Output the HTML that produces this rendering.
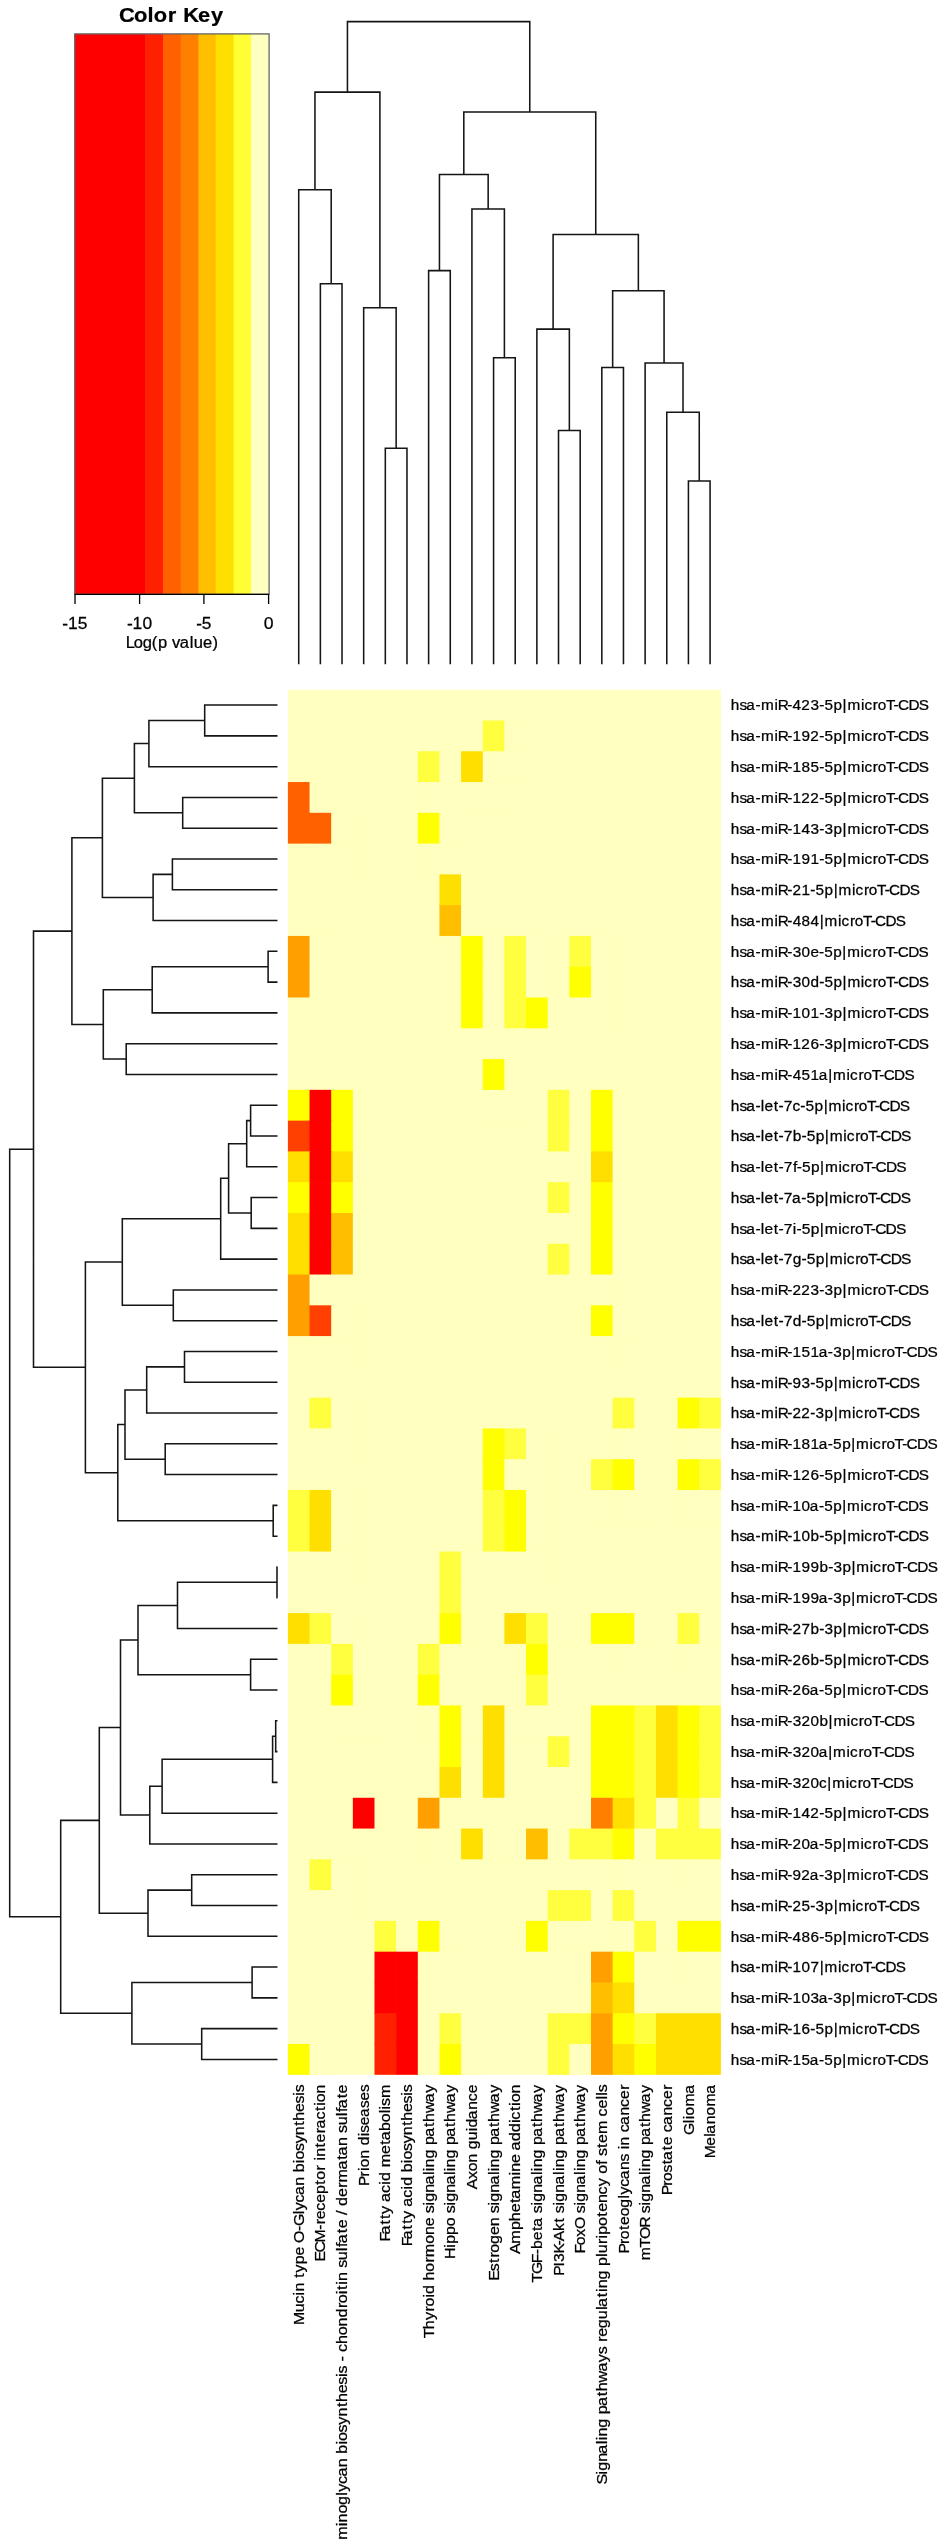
<!DOCTYPE html><html><head><meta charset="utf-8"><style>html,body{margin:0;padding:0;background:#fff;}svg{display:block;will-change:transform;}text{font-family:"Liberation Sans",sans-serif;stroke:#000;stroke-width:0.25px;}</style></head><body>
<svg width="944" height="2548" viewBox="0 0 944 2548">
<rect width="944" height="2548" fill="#fff"/>
<rect x="287.9" y="689.7" width="433.00" height="1385.10" fill="#FFFFBF"/>
<rect x="482.75" y="720.48" width="22.35" height="31.48" fill="#FFFF40"/>
<rect x="504.40" y="720.48" width="22.35" height="31.48" fill="#FFFFBF"/>
<rect x="417.80" y="751.26" width="22.35" height="31.48" fill="#FFFF40"/>
<rect x="439.45" y="751.26" width="22.35" height="31.48" fill="#FFFFBF"/>
<rect x="461.10" y="751.26" width="22.35" height="31.48" fill="#FFDF00"/>
<rect x="482.75" y="751.26" width="22.35" height="31.48" fill="#FFFFBF"/>
<rect x="504.40" y="751.26" width="22.35" height="31.48" fill="#FFFFBF"/>
<rect x="287.90" y="782.04" width="22.35" height="31.48" fill="#FF6000"/>
<rect x="309.55" y="782.04" width="22.35" height="31.48" fill="#FFFFBF"/>
<rect x="417.80" y="782.04" width="22.35" height="31.48" fill="#FFFFBF"/>
<rect x="439.45" y="782.04" width="22.35" height="31.48" fill="#FFFFBF"/>
<rect x="461.10" y="782.04" width="22.35" height="31.48" fill="#FFFFBF"/>
<rect x="482.75" y="782.04" width="22.35" height="31.48" fill="#FFFFBF"/>
<rect x="287.90" y="812.82" width="22.35" height="31.48" fill="#FF6000"/>
<rect x="309.55" y="812.82" width="22.35" height="31.48" fill="#FF6000"/>
<rect x="331.20" y="812.82" width="22.35" height="31.48" fill="#FFFFBF"/>
<rect x="417.80" y="812.82" width="22.35" height="31.48" fill="#FFFF00"/>
<rect x="439.45" y="812.82" width="22.35" height="31.48" fill="#FFFFBF"/>
<rect x="287.90" y="843.60" width="22.35" height="31.48" fill="#FFFFBF"/>
<rect x="309.55" y="843.60" width="22.35" height="31.48" fill="#FFFFBF"/>
<rect x="331.20" y="843.60" width="22.35" height="31.48" fill="#FFFFBF"/>
<rect x="417.80" y="843.60" width="22.35" height="31.48" fill="#FFFFBF"/>
<rect x="439.45" y="843.60" width="22.35" height="31.48" fill="#FFFFBF"/>
<rect x="439.45" y="874.38" width="22.35" height="31.48" fill="#FFDF00"/>
<rect x="461.10" y="874.38" width="22.35" height="31.48" fill="#FFFFBF"/>
<rect x="439.45" y="905.16" width="22.35" height="31.48" fill="#FFBF00"/>
<rect x="461.10" y="905.16" width="22.35" height="31.48" fill="#FFFFBF"/>
<rect x="287.90" y="935.94" width="22.35" height="31.48" fill="#FFA000"/>
<rect x="309.55" y="935.94" width="22.35" height="31.48" fill="#FFFFBF"/>
<rect x="439.45" y="935.94" width="22.35" height="31.48" fill="#FFFFBF"/>
<rect x="461.10" y="935.94" width="22.35" height="31.48" fill="#FFFF00"/>
<rect x="482.75" y="935.94" width="22.35" height="31.48" fill="#FFFFBF"/>
<rect x="504.40" y="935.94" width="22.35" height="31.48" fill="#FFFF40"/>
<rect x="526.05" y="935.94" width="22.35" height="31.48" fill="#FFFFBF"/>
<rect x="569.35" y="935.94" width="22.35" height="31.48" fill="#FFFF40"/>
<rect x="591.00" y="935.94" width="22.35" height="31.48" fill="#FFFFBF"/>
<rect x="287.90" y="966.72" width="22.35" height="31.48" fill="#FFA000"/>
<rect x="309.55" y="966.72" width="22.35" height="31.48" fill="#FFFFBF"/>
<rect x="461.10" y="966.72" width="22.35" height="31.48" fill="#FFFF00"/>
<rect x="482.75" y="966.72" width="22.35" height="31.48" fill="#FFFFBF"/>
<rect x="504.40" y="966.72" width="22.35" height="31.48" fill="#FFFF40"/>
<rect x="526.05" y="966.72" width="22.35" height="31.48" fill="#FFFFBF"/>
<rect x="569.35" y="966.72" width="22.35" height="31.48" fill="#FFFF00"/>
<rect x="591.00" y="966.72" width="22.35" height="31.48" fill="#FFFFBF"/>
<rect x="287.90" y="997.50" width="22.35" height="31.48" fill="#FFFFBF"/>
<rect x="309.55" y="997.50" width="22.35" height="31.48" fill="#FFFFBF"/>
<rect x="461.10" y="997.50" width="22.35" height="31.48" fill="#FFFF00"/>
<rect x="482.75" y="997.50" width="22.35" height="31.48" fill="#FFFFBF"/>
<rect x="504.40" y="997.50" width="22.35" height="31.48" fill="#FFFF40"/>
<rect x="526.05" y="997.50" width="22.35" height="31.48" fill="#FFFF00"/>
<rect x="547.70" y="997.50" width="22.35" height="31.48" fill="#FFFFBF"/>
<rect x="569.35" y="997.50" width="22.35" height="31.48" fill="#FFFFBF"/>
<rect x="591.00" y="997.50" width="22.35" height="31.48" fill="#FFFFBF"/>
<rect x="461.10" y="1028.28" width="22.35" height="31.48" fill="#FFFFBF"/>
<rect x="482.75" y="1028.28" width="22.35" height="31.48" fill="#FFFFBF"/>
<rect x="504.40" y="1028.28" width="22.35" height="31.48" fill="#FFFFBF"/>
<rect x="526.05" y="1028.28" width="22.35" height="31.48" fill="#FFFFBF"/>
<rect x="547.70" y="1028.28" width="22.35" height="31.48" fill="#FFFFBF"/>
<rect x="482.75" y="1059.06" width="22.35" height="31.48" fill="#FFFF00"/>
<rect x="504.40" y="1059.06" width="22.35" height="31.48" fill="#FFFFBF"/>
<rect x="287.90" y="1089.84" width="22.35" height="31.48" fill="#FFFF00"/>
<rect x="309.55" y="1089.84" width="22.35" height="31.48" fill="#FF0000"/>
<rect x="331.20" y="1089.84" width="22.35" height="31.48" fill="#FFFF00"/>
<rect x="352.85" y="1089.84" width="22.35" height="31.48" fill="#FFFFBF"/>
<rect x="482.75" y="1089.84" width="22.35" height="31.48" fill="#FFFFBF"/>
<rect x="504.40" y="1089.84" width="22.35" height="31.48" fill="#FFFFBF"/>
<rect x="547.70" y="1089.84" width="22.35" height="31.48" fill="#FFFF40"/>
<rect x="569.35" y="1089.84" width="22.35" height="31.48" fill="#FFFFBF"/>
<rect x="591.00" y="1089.84" width="22.35" height="31.48" fill="#FFFF00"/>
<rect x="612.65" y="1089.84" width="22.35" height="31.48" fill="#FFFFBF"/>
<rect x="287.90" y="1120.62" width="22.35" height="31.48" fill="#FF4000"/>
<rect x="309.55" y="1120.62" width="22.35" height="31.48" fill="#FF0000"/>
<rect x="331.20" y="1120.62" width="22.35" height="31.48" fill="#FFFF00"/>
<rect x="352.85" y="1120.62" width="22.35" height="31.48" fill="#FFFFBF"/>
<rect x="547.70" y="1120.62" width="22.35" height="31.48" fill="#FFFF40"/>
<rect x="569.35" y="1120.62" width="22.35" height="31.48" fill="#FFFFBF"/>
<rect x="591.00" y="1120.62" width="22.35" height="31.48" fill="#FFFF00"/>
<rect x="612.65" y="1120.62" width="22.35" height="31.48" fill="#FFFFBF"/>
<rect x="287.90" y="1151.40" width="22.35" height="31.48" fill="#FFDF00"/>
<rect x="309.55" y="1151.40" width="22.35" height="31.48" fill="#FF0000"/>
<rect x="331.20" y="1151.40" width="22.35" height="31.48" fill="#FFDF00"/>
<rect x="352.85" y="1151.40" width="22.35" height="31.48" fill="#FFFFBF"/>
<rect x="547.70" y="1151.40" width="22.35" height="31.48" fill="#FFFFBF"/>
<rect x="569.35" y="1151.40" width="22.35" height="31.48" fill="#FFFFBF"/>
<rect x="591.00" y="1151.40" width="22.35" height="31.48" fill="#FFDF00"/>
<rect x="612.65" y="1151.40" width="22.35" height="31.48" fill="#FFFFBF"/>
<rect x="287.90" y="1182.18" width="22.35" height="31.48" fill="#FFFF00"/>
<rect x="309.55" y="1182.18" width="22.35" height="31.48" fill="#FF0000"/>
<rect x="331.20" y="1182.18" width="22.35" height="31.48" fill="#FFFF00"/>
<rect x="352.85" y="1182.18" width="22.35" height="31.48" fill="#FFFFBF"/>
<rect x="547.70" y="1182.18" width="22.35" height="31.48" fill="#FFFF40"/>
<rect x="569.35" y="1182.18" width="22.35" height="31.48" fill="#FFFFBF"/>
<rect x="591.00" y="1182.18" width="22.35" height="31.48" fill="#FFFF00"/>
<rect x="612.65" y="1182.18" width="22.35" height="31.48" fill="#FFFFBF"/>
<rect x="287.90" y="1212.96" width="22.35" height="31.48" fill="#FFDF00"/>
<rect x="309.55" y="1212.96" width="22.35" height="31.48" fill="#FF0000"/>
<rect x="331.20" y="1212.96" width="22.35" height="31.48" fill="#FFBF00"/>
<rect x="352.85" y="1212.96" width="22.35" height="31.48" fill="#FFFFBF"/>
<rect x="547.70" y="1212.96" width="22.35" height="31.48" fill="#FFFFBF"/>
<rect x="569.35" y="1212.96" width="22.35" height="31.48" fill="#FFFFBF"/>
<rect x="591.00" y="1212.96" width="22.35" height="31.48" fill="#FFFF00"/>
<rect x="612.65" y="1212.96" width="22.35" height="31.48" fill="#FFFFBF"/>
<rect x="287.90" y="1243.74" width="22.35" height="31.48" fill="#FFDF00"/>
<rect x="309.55" y="1243.74" width="22.35" height="31.48" fill="#FF0000"/>
<rect x="331.20" y="1243.74" width="22.35" height="31.48" fill="#FFBF00"/>
<rect x="352.85" y="1243.74" width="22.35" height="31.48" fill="#FFFFBF"/>
<rect x="547.70" y="1243.74" width="22.35" height="31.48" fill="#FFFF40"/>
<rect x="569.35" y="1243.74" width="22.35" height="31.48" fill="#FFFFBF"/>
<rect x="591.00" y="1243.74" width="22.35" height="31.48" fill="#FFFF00"/>
<rect x="612.65" y="1243.74" width="22.35" height="31.48" fill="#FFFFBF"/>
<rect x="287.90" y="1274.52" width="22.35" height="31.48" fill="#FFA000"/>
<rect x="309.55" y="1274.52" width="22.35" height="31.48" fill="#FFFFBF"/>
<rect x="331.20" y="1274.52" width="22.35" height="31.48" fill="#FFFFBF"/>
<rect x="352.85" y="1274.52" width="22.35" height="31.48" fill="#FFFFBF"/>
<rect x="547.70" y="1274.52" width="22.35" height="31.48" fill="#FFFFBF"/>
<rect x="569.35" y="1274.52" width="22.35" height="31.48" fill="#FFFFBF"/>
<rect x="591.00" y="1274.52" width="22.35" height="31.48" fill="#FFFFBF"/>
<rect x="612.65" y="1274.52" width="22.35" height="31.48" fill="#FFFFBF"/>
<rect x="287.90" y="1305.30" width="22.35" height="31.48" fill="#FFA000"/>
<rect x="309.55" y="1305.30" width="22.35" height="31.48" fill="#FF4000"/>
<rect x="331.20" y="1305.30" width="22.35" height="31.48" fill="#FFFFBF"/>
<rect x="591.00" y="1305.30" width="22.35" height="31.48" fill="#FFFF00"/>
<rect x="612.65" y="1305.30" width="22.35" height="31.48" fill="#FFFFBF"/>
<rect x="287.90" y="1336.08" width="22.35" height="31.48" fill="#FFFFBF"/>
<rect x="309.55" y="1336.08" width="22.35" height="31.48" fill="#FFFFBF"/>
<rect x="331.20" y="1336.08" width="22.35" height="31.48" fill="#FFFFBF"/>
<rect x="591.00" y="1336.08" width="22.35" height="31.48" fill="#FFFFBF"/>
<rect x="612.65" y="1336.08" width="22.35" height="31.48" fill="#FFFFBF"/>
<rect x="309.55" y="1397.64" width="22.35" height="31.48" fill="#FFFF40"/>
<rect x="331.20" y="1397.64" width="22.35" height="31.48" fill="#FFFFBF"/>
<rect x="612.65" y="1397.64" width="22.35" height="31.48" fill="#FFFF40"/>
<rect x="634.30" y="1397.64" width="22.35" height="31.48" fill="#FFFFBF"/>
<rect x="677.60" y="1397.64" width="22.35" height="31.48" fill="#FFFF00"/>
<rect x="699.25" y="1397.64" width="21.65" height="31.48" fill="#FFFF40"/>
<rect x="309.55" y="1428.42" width="22.35" height="31.48" fill="#FFFFBF"/>
<rect x="331.20" y="1428.42" width="22.35" height="31.48" fill="#FFFFBF"/>
<rect x="482.75" y="1428.42" width="22.35" height="31.48" fill="#FFFF00"/>
<rect x="504.40" y="1428.42" width="22.35" height="31.48" fill="#FFFF40"/>
<rect x="526.05" y="1428.42" width="22.35" height="31.48" fill="#FFFFBF"/>
<rect x="612.65" y="1428.42" width="22.35" height="31.48" fill="#FFFFBF"/>
<rect x="634.30" y="1428.42" width="22.35" height="31.48" fill="#FFFFBF"/>
<rect x="677.60" y="1428.42" width="22.35" height="31.48" fill="#FFFFBF"/>
<rect x="699.25" y="1428.42" width="21.65" height="31.48" fill="#FFFFBF"/>
<rect x="482.75" y="1459.20" width="22.35" height="31.48" fill="#FFFF00"/>
<rect x="504.40" y="1459.20" width="22.35" height="31.48" fill="#FFFFBF"/>
<rect x="526.05" y="1459.20" width="22.35" height="31.48" fill="#FFFFBF"/>
<rect x="591.00" y="1459.20" width="22.35" height="31.48" fill="#FFFF40"/>
<rect x="612.65" y="1459.20" width="22.35" height="31.48" fill="#FFFF00"/>
<rect x="634.30" y="1459.20" width="22.35" height="31.48" fill="#FFFFBF"/>
<rect x="677.60" y="1459.20" width="22.35" height="31.48" fill="#FFFF00"/>
<rect x="699.25" y="1459.20" width="21.65" height="31.48" fill="#FFFF40"/>
<rect x="287.90" y="1489.98" width="22.35" height="31.48" fill="#FFFF40"/>
<rect x="309.55" y="1489.98" width="22.35" height="31.48" fill="#FFDF00"/>
<rect x="331.20" y="1489.98" width="22.35" height="31.48" fill="#FFFFBF"/>
<rect x="482.75" y="1489.98" width="22.35" height="31.48" fill="#FFFF40"/>
<rect x="504.40" y="1489.98" width="22.35" height="31.48" fill="#FFFF00"/>
<rect x="526.05" y="1489.98" width="22.35" height="31.48" fill="#FFFFBF"/>
<rect x="591.00" y="1489.98" width="22.35" height="31.48" fill="#FFFFBF"/>
<rect x="612.65" y="1489.98" width="22.35" height="31.48" fill="#FFFFBF"/>
<rect x="634.30" y="1489.98" width="22.35" height="31.48" fill="#FFFFBF"/>
<rect x="677.60" y="1489.98" width="22.35" height="31.48" fill="#FFFFBF"/>
<rect x="699.25" y="1489.98" width="21.65" height="31.48" fill="#FFFFBF"/>
<rect x="287.90" y="1520.76" width="22.35" height="31.48" fill="#FFFF40"/>
<rect x="309.55" y="1520.76" width="22.35" height="31.48" fill="#FFDF00"/>
<rect x="331.20" y="1520.76" width="22.35" height="31.48" fill="#FFFFBF"/>
<rect x="482.75" y="1520.76" width="22.35" height="31.48" fill="#FFFF40"/>
<rect x="504.40" y="1520.76" width="22.35" height="31.48" fill="#FFFF00"/>
<rect x="526.05" y="1520.76" width="22.35" height="31.48" fill="#FFFFBF"/>
<rect x="287.90" y="1551.54" width="22.35" height="31.48" fill="#FFFFBF"/>
<rect x="309.55" y="1551.54" width="22.35" height="31.48" fill="#FFFFBF"/>
<rect x="331.20" y="1551.54" width="22.35" height="31.48" fill="#FFFFBF"/>
<rect x="439.45" y="1551.54" width="22.35" height="31.48" fill="#FFFF40"/>
<rect x="461.10" y="1551.54" width="22.35" height="31.48" fill="#FFFFBF"/>
<rect x="482.75" y="1551.54" width="22.35" height="31.48" fill="#FFFFBF"/>
<rect x="504.40" y="1551.54" width="22.35" height="31.48" fill="#FFFFBF"/>
<rect x="526.05" y="1551.54" width="22.35" height="31.48" fill="#FFFFBF"/>
<rect x="439.45" y="1582.32" width="22.35" height="31.48" fill="#FFFF40"/>
<rect x="461.10" y="1582.32" width="22.35" height="31.48" fill="#FFFFBF"/>
<rect x="287.90" y="1613.10" width="22.35" height="31.48" fill="#FFDF00"/>
<rect x="309.55" y="1613.10" width="22.35" height="31.48" fill="#FFFF40"/>
<rect x="331.20" y="1613.10" width="22.35" height="31.48" fill="#FFFFBF"/>
<rect x="439.45" y="1613.10" width="22.35" height="31.48" fill="#FFFF00"/>
<rect x="461.10" y="1613.10" width="22.35" height="31.48" fill="#FFFFBF"/>
<rect x="504.40" y="1613.10" width="22.35" height="31.48" fill="#FFDF00"/>
<rect x="526.05" y="1613.10" width="22.35" height="31.48" fill="#FFFF40"/>
<rect x="547.70" y="1613.10" width="22.35" height="31.48" fill="#FFFFBF"/>
<rect x="591.00" y="1613.10" width="22.35" height="31.48" fill="#FFFF00"/>
<rect x="612.65" y="1613.10" width="22.35" height="31.48" fill="#FFFF00"/>
<rect x="634.30" y="1613.10" width="22.35" height="31.48" fill="#FFFFBF"/>
<rect x="677.60" y="1613.10" width="22.35" height="31.48" fill="#FFFF40"/>
<rect x="699.25" y="1613.10" width="21.65" height="31.48" fill="#FFFFBF"/>
<rect x="287.90" y="1643.88" width="22.35" height="31.48" fill="#FFFFBF"/>
<rect x="309.55" y="1643.88" width="22.35" height="31.48" fill="#FFFFBF"/>
<rect x="331.20" y="1643.88" width="22.35" height="31.48" fill="#FFFF40"/>
<rect x="352.85" y="1643.88" width="22.35" height="31.48" fill="#FFFFBF"/>
<rect x="417.80" y="1643.88" width="22.35" height="31.48" fill="#FFFF40"/>
<rect x="439.45" y="1643.88" width="22.35" height="31.48" fill="#FFFFBF"/>
<rect x="461.10" y="1643.88" width="22.35" height="31.48" fill="#FFFFBF"/>
<rect x="504.40" y="1643.88" width="22.35" height="31.48" fill="#FFFFBF"/>
<rect x="526.05" y="1643.88" width="22.35" height="31.48" fill="#FFFF00"/>
<rect x="547.70" y="1643.88" width="22.35" height="31.48" fill="#FFFFBF"/>
<rect x="591.00" y="1643.88" width="22.35" height="31.48" fill="#FFFFBF"/>
<rect x="612.65" y="1643.88" width="22.35" height="31.48" fill="#FFFFBF"/>
<rect x="634.30" y="1643.88" width="22.35" height="31.48" fill="#FFFFBF"/>
<rect x="677.60" y="1643.88" width="22.35" height="31.48" fill="#FFFFBF"/>
<rect x="699.25" y="1643.88" width="21.65" height="31.48" fill="#FFFFBF"/>
<rect x="331.20" y="1674.66" width="22.35" height="31.48" fill="#FFFF00"/>
<rect x="352.85" y="1674.66" width="22.35" height="31.48" fill="#FFFFBF"/>
<rect x="417.80" y="1674.66" width="22.35" height="31.48" fill="#FFFF00"/>
<rect x="439.45" y="1674.66" width="22.35" height="31.48" fill="#FFFFBF"/>
<rect x="526.05" y="1674.66" width="22.35" height="31.48" fill="#FFFF40"/>
<rect x="547.70" y="1674.66" width="22.35" height="31.48" fill="#FFFFBF"/>
<rect x="331.20" y="1705.44" width="22.35" height="31.48" fill="#FFFFBF"/>
<rect x="352.85" y="1705.44" width="22.35" height="31.48" fill="#FFFFBF"/>
<rect x="417.80" y="1705.44" width="22.35" height="31.48" fill="#FFFFBF"/>
<rect x="439.45" y="1705.44" width="22.35" height="31.48" fill="#FFFF00"/>
<rect x="461.10" y="1705.44" width="22.35" height="31.48" fill="#FFFFBF"/>
<rect x="482.75" y="1705.44" width="22.35" height="31.48" fill="#FFDF00"/>
<rect x="504.40" y="1705.44" width="22.35" height="31.48" fill="#FFFFBF"/>
<rect x="526.05" y="1705.44" width="22.35" height="31.48" fill="#FFFFBF"/>
<rect x="547.70" y="1705.44" width="22.35" height="31.48" fill="#FFFFBF"/>
<rect x="591.00" y="1705.44" width="22.35" height="31.48" fill="#FFFF00"/>
<rect x="612.65" y="1705.44" width="22.35" height="31.48" fill="#FFFF00"/>
<rect x="634.30" y="1705.44" width="22.35" height="31.48" fill="#FFFF40"/>
<rect x="655.95" y="1705.44" width="22.35" height="31.48" fill="#FFDF00"/>
<rect x="677.60" y="1705.44" width="22.35" height="31.48" fill="#FFFF00"/>
<rect x="699.25" y="1705.44" width="21.65" height="31.48" fill="#FFFF40"/>
<rect x="439.45" y="1736.22" width="22.35" height="31.48" fill="#FFFF00"/>
<rect x="461.10" y="1736.22" width="22.35" height="31.48" fill="#FFFFBF"/>
<rect x="482.75" y="1736.22" width="22.35" height="31.48" fill="#FFDF00"/>
<rect x="504.40" y="1736.22" width="22.35" height="31.48" fill="#FFFFBF"/>
<rect x="547.70" y="1736.22" width="22.35" height="31.48" fill="#FFFF40"/>
<rect x="569.35" y="1736.22" width="22.35" height="31.48" fill="#FFFFBF"/>
<rect x="591.00" y="1736.22" width="22.35" height="31.48" fill="#FFFF00"/>
<rect x="612.65" y="1736.22" width="22.35" height="31.48" fill="#FFFF00"/>
<rect x="634.30" y="1736.22" width="22.35" height="31.48" fill="#FFFF40"/>
<rect x="655.95" y="1736.22" width="22.35" height="31.48" fill="#FFDF00"/>
<rect x="677.60" y="1736.22" width="22.35" height="31.48" fill="#FFFF00"/>
<rect x="699.25" y="1736.22" width="21.65" height="31.48" fill="#FFFF40"/>
<rect x="439.45" y="1767.00" width="22.35" height="31.48" fill="#FFDF00"/>
<rect x="461.10" y="1767.00" width="22.35" height="31.48" fill="#FFFFBF"/>
<rect x="482.75" y="1767.00" width="22.35" height="31.48" fill="#FFDF00"/>
<rect x="504.40" y="1767.00" width="22.35" height="31.48" fill="#FFFFBF"/>
<rect x="547.70" y="1767.00" width="22.35" height="31.48" fill="#FFFFBF"/>
<rect x="569.35" y="1767.00" width="22.35" height="31.48" fill="#FFFFBF"/>
<rect x="591.00" y="1767.00" width="22.35" height="31.48" fill="#FFFF00"/>
<rect x="612.65" y="1767.00" width="22.35" height="31.48" fill="#FFFF00"/>
<rect x="634.30" y="1767.00" width="22.35" height="31.48" fill="#FFFF40"/>
<rect x="655.95" y="1767.00" width="22.35" height="31.48" fill="#FFDF00"/>
<rect x="677.60" y="1767.00" width="22.35" height="31.48" fill="#FFFF00"/>
<rect x="699.25" y="1767.00" width="21.65" height="31.48" fill="#FFFF40"/>
<rect x="352.85" y="1797.78" width="22.35" height="31.48" fill="#FF0000"/>
<rect x="374.50" y="1797.78" width="22.35" height="31.48" fill="#FFFFBF"/>
<rect x="417.80" y="1797.78" width="22.35" height="31.48" fill="#FFA000"/>
<rect x="439.45" y="1797.78" width="22.35" height="31.48" fill="#FFFFBF"/>
<rect x="461.10" y="1797.78" width="22.35" height="31.48" fill="#FFFFBF"/>
<rect x="482.75" y="1797.78" width="22.35" height="31.48" fill="#FFFFBF"/>
<rect x="504.40" y="1797.78" width="22.35" height="31.48" fill="#FFFFBF"/>
<rect x="591.00" y="1797.78" width="22.35" height="31.48" fill="#FF8000"/>
<rect x="612.65" y="1797.78" width="22.35" height="31.48" fill="#FFDF00"/>
<rect x="634.30" y="1797.78" width="22.35" height="31.48" fill="#FFFF40"/>
<rect x="655.95" y="1797.78" width="22.35" height="31.48" fill="#FFFFBF"/>
<rect x="677.60" y="1797.78" width="22.35" height="31.48" fill="#FFFF40"/>
<rect x="699.25" y="1797.78" width="21.65" height="31.48" fill="#FFFFBF"/>
<rect x="352.85" y="1828.56" width="22.35" height="31.48" fill="#FFFFBF"/>
<rect x="374.50" y="1828.56" width="22.35" height="31.48" fill="#FFFFBF"/>
<rect x="417.80" y="1828.56" width="22.35" height="31.48" fill="#FFFFBF"/>
<rect x="439.45" y="1828.56" width="22.35" height="31.48" fill="#FFFFBF"/>
<rect x="461.10" y="1828.56" width="22.35" height="31.48" fill="#FFDF00"/>
<rect x="482.75" y="1828.56" width="22.35" height="31.48" fill="#FFFFBF"/>
<rect x="526.05" y="1828.56" width="22.35" height="31.48" fill="#FFBF00"/>
<rect x="547.70" y="1828.56" width="22.35" height="31.48" fill="#FFFFBF"/>
<rect x="569.35" y="1828.56" width="22.35" height="31.48" fill="#FFFF40"/>
<rect x="591.00" y="1828.56" width="22.35" height="31.48" fill="#FFFF40"/>
<rect x="612.65" y="1828.56" width="22.35" height="31.48" fill="#FFFF00"/>
<rect x="634.30" y="1828.56" width="22.35" height="31.48" fill="#FFFFBF"/>
<rect x="655.95" y="1828.56" width="22.35" height="31.48" fill="#FFFF40"/>
<rect x="677.60" y="1828.56" width="22.35" height="31.48" fill="#FFFF40"/>
<rect x="699.25" y="1828.56" width="21.65" height="31.48" fill="#FFFF40"/>
<rect x="309.55" y="1859.34" width="22.35" height="31.48" fill="#FFFF40"/>
<rect x="331.20" y="1859.34" width="22.35" height="31.48" fill="#FFFFBF"/>
<rect x="461.10" y="1859.34" width="22.35" height="31.48" fill="#FFFFBF"/>
<rect x="482.75" y="1859.34" width="22.35" height="31.48" fill="#FFFFBF"/>
<rect x="526.05" y="1859.34" width="22.35" height="31.48" fill="#FFFFBF"/>
<rect x="547.70" y="1859.34" width="22.35" height="31.48" fill="#FFFFBF"/>
<rect x="569.35" y="1859.34" width="22.35" height="31.48" fill="#FFFFBF"/>
<rect x="591.00" y="1859.34" width="22.35" height="31.48" fill="#FFFFBF"/>
<rect x="612.65" y="1859.34" width="22.35" height="31.48" fill="#FFFFBF"/>
<rect x="634.30" y="1859.34" width="22.35" height="31.48" fill="#FFFFBF"/>
<rect x="655.95" y="1859.34" width="22.35" height="31.48" fill="#FFFFBF"/>
<rect x="677.60" y="1859.34" width="22.35" height="31.48" fill="#FFFFBF"/>
<rect x="699.25" y="1859.34" width="21.65" height="31.48" fill="#FFFFBF"/>
<rect x="309.55" y="1890.12" width="22.35" height="31.48" fill="#FFFFBF"/>
<rect x="331.20" y="1890.12" width="22.35" height="31.48" fill="#FFFFBF"/>
<rect x="547.70" y="1890.12" width="22.35" height="31.48" fill="#FFFF40"/>
<rect x="569.35" y="1890.12" width="22.35" height="31.48" fill="#FFFF40"/>
<rect x="591.00" y="1890.12" width="22.35" height="31.48" fill="#FFFFBF"/>
<rect x="612.65" y="1890.12" width="22.35" height="31.48" fill="#FFFF40"/>
<rect x="634.30" y="1890.12" width="22.35" height="31.48" fill="#FFFFBF"/>
<rect x="374.50" y="1920.90" width="22.35" height="31.48" fill="#FFFF40"/>
<rect x="396.15" y="1920.90" width="22.35" height="31.48" fill="#FFFFBF"/>
<rect x="417.80" y="1920.90" width="22.35" height="31.48" fill="#FFFF00"/>
<rect x="439.45" y="1920.90" width="22.35" height="31.48" fill="#FFFFBF"/>
<rect x="526.05" y="1920.90" width="22.35" height="31.48" fill="#FFFF00"/>
<rect x="547.70" y="1920.90" width="22.35" height="31.48" fill="#FFFFBF"/>
<rect x="569.35" y="1920.90" width="22.35" height="31.48" fill="#FFFFBF"/>
<rect x="591.00" y="1920.90" width="22.35" height="31.48" fill="#FFFFBF"/>
<rect x="612.65" y="1920.90" width="22.35" height="31.48" fill="#FFFFBF"/>
<rect x="634.30" y="1920.90" width="22.35" height="31.48" fill="#FFFF40"/>
<rect x="655.95" y="1920.90" width="22.35" height="31.48" fill="#FFFFBF"/>
<rect x="677.60" y="1920.90" width="22.35" height="31.48" fill="#FFFF00"/>
<rect x="699.25" y="1920.90" width="21.65" height="31.48" fill="#FFFF00"/>
<rect x="374.50" y="1951.68" width="22.35" height="31.48" fill="#FF0000"/>
<rect x="396.15" y="1951.68" width="22.35" height="31.48" fill="#FF0000"/>
<rect x="417.80" y="1951.68" width="22.35" height="31.48" fill="#FFFFBF"/>
<rect x="439.45" y="1951.68" width="22.35" height="31.48" fill="#FFFFBF"/>
<rect x="526.05" y="1951.68" width="22.35" height="31.48" fill="#FFFFBF"/>
<rect x="547.70" y="1951.68" width="22.35" height="31.48" fill="#FFFFBF"/>
<rect x="591.00" y="1951.68" width="22.35" height="31.48" fill="#FFA000"/>
<rect x="612.65" y="1951.68" width="22.35" height="31.48" fill="#FFFF00"/>
<rect x="634.30" y="1951.68" width="22.35" height="31.48" fill="#FFFFBF"/>
<rect x="655.95" y="1951.68" width="22.35" height="31.48" fill="#FFFFBF"/>
<rect x="677.60" y="1951.68" width="22.35" height="31.48" fill="#FFFFBF"/>
<rect x="699.25" y="1951.68" width="21.65" height="31.48" fill="#FFFFBF"/>
<rect x="374.50" y="1982.46" width="22.35" height="31.48" fill="#FF0000"/>
<rect x="396.15" y="1982.46" width="22.35" height="31.48" fill="#FF0000"/>
<rect x="417.80" y="1982.46" width="22.35" height="31.48" fill="#FFFFBF"/>
<rect x="591.00" y="1982.46" width="22.35" height="31.48" fill="#FFBF00"/>
<rect x="612.65" y="1982.46" width="22.35" height="31.48" fill="#FFDF00"/>
<rect x="634.30" y="1982.46" width="22.35" height="31.48" fill="#FFFFBF"/>
<rect x="374.50" y="2013.24" width="22.35" height="31.48" fill="#FF2000"/>
<rect x="396.15" y="2013.24" width="22.35" height="31.48" fill="#FF0000"/>
<rect x="417.80" y="2013.24" width="22.35" height="31.48" fill="#FFFFBF"/>
<rect x="439.45" y="2013.24" width="22.35" height="31.48" fill="#FFFF40"/>
<rect x="461.10" y="2013.24" width="22.35" height="31.48" fill="#FFFFBF"/>
<rect x="547.70" y="2013.24" width="22.35" height="31.48" fill="#FFFF40"/>
<rect x="569.35" y="2013.24" width="22.35" height="31.48" fill="#FFFF40"/>
<rect x="591.00" y="2013.24" width="22.35" height="31.48" fill="#FFA000"/>
<rect x="612.65" y="2013.24" width="22.35" height="31.48" fill="#FFFF00"/>
<rect x="634.30" y="2013.24" width="22.35" height="31.48" fill="#FFFF40"/>
<rect x="655.95" y="2013.24" width="22.35" height="31.48" fill="#FFDF00"/>
<rect x="677.60" y="2013.24" width="22.35" height="31.48" fill="#FFDF00"/>
<rect x="699.25" y="2013.24" width="21.65" height="31.48" fill="#FFDF00"/>
<rect x="287.90" y="2044.02" width="22.35" height="30.78" fill="#FFFF00"/>
<rect x="309.55" y="2044.02" width="22.35" height="30.78" fill="#FFFFBF"/>
<rect x="374.50" y="2044.02" width="22.35" height="30.78" fill="#FF2000"/>
<rect x="396.15" y="2044.02" width="22.35" height="30.78" fill="#FF0000"/>
<rect x="417.80" y="2044.02" width="22.35" height="30.78" fill="#FFFFBF"/>
<rect x="439.45" y="2044.02" width="22.35" height="30.78" fill="#FFFF00"/>
<rect x="461.10" y="2044.02" width="22.35" height="30.78" fill="#FFFFBF"/>
<rect x="547.70" y="2044.02" width="22.35" height="30.78" fill="#FFFF40"/>
<rect x="569.35" y="2044.02" width="22.35" height="30.78" fill="#FFFFBF"/>
<rect x="591.00" y="2044.02" width="22.35" height="30.78" fill="#FFA000"/>
<rect x="612.65" y="2044.02" width="22.35" height="30.78" fill="#FFDF00"/>
<rect x="634.30" y="2044.02" width="22.35" height="30.78" fill="#FFFF00"/>
<rect x="655.95" y="2044.02" width="22.35" height="30.78" fill="#FFDF00"/>
<rect x="677.60" y="2044.02" width="22.35" height="30.78" fill="#FFDF00"/>
<rect x="699.25" y="2044.02" width="21.65" height="30.78" fill="#FFDF00"/>
<rect x="74.7" y="33.9" width="71.10" height="560.40" fill="#FF0000"/>
<rect x="145.1" y="33.9" width="18.60" height="560.40" fill="#FF2000"/>
<rect x="163.0" y="33.9" width="18.40" height="560.40" fill="#FF6000"/>
<rect x="180.7" y="33.9" width="18.40" height="560.40" fill="#FF8000"/>
<rect x="198.4" y="33.9" width="18.00" height="560.40" fill="#FFBF00"/>
<rect x="215.7" y="33.9" width="18.60" height="560.40" fill="#FFDF00"/>
<rect x="233.6" y="33.9" width="18.20" height="560.40" fill="#FFFF33"/>
<rect x="251.1" y="33.9" width="18.00" height="560.40" fill="#FFFFBF"/>
<rect x="74.7" y="33.9" width="194.40" height="560.40" fill="none" stroke="#666" stroke-width="1.3"/>
<path d="M74.7 594.3H269.1M75.0 594.3V604.1M139.6 594.3V604.1M203.9 594.3V604.1M268.6 594.3V604.1" stroke="#000" stroke-width="1.3" fill="none"/>
<path d="M277.50 705.09L204.70 705.09L204.70 735.87L277.50 735.87M204.70 720.48L148.90 720.48L148.90 766.65L277.50 766.65M277.50 797.43L182.70 797.43L182.70 828.21L277.50 828.21M148.90 743.57L134.40 743.57L134.40 812.82L182.70 812.82M277.50 858.99L172.40 858.99L172.40 889.77L277.50 889.77M172.40 874.38L153.10 874.38L153.10 920.55L277.50 920.55M134.40 778.19L102.40 778.19L102.40 897.47L153.10 897.47M277.50 951.33L268.10 951.33L268.10 982.11L277.50 982.11M268.10 966.72L152.20 966.72L152.20 1012.89L277.50 1012.89M277.50 1043.67L126.20 1043.67L126.20 1074.45L277.50 1074.45M152.20 989.81L103.30 989.81L103.30 1059.06L126.20 1059.06M102.40 837.83L71.90 837.83L71.90 1024.43L103.30 1024.43M277.50 1105.23L250.60 1105.23L250.60 1136.01L277.50 1136.01M250.60 1120.62L246.70 1120.62L246.70 1166.79L277.50 1166.79M277.50 1197.57L251.20 1197.57L251.20 1228.35L277.50 1228.35M246.70 1143.71L228.60 1143.71L228.60 1212.96L251.20 1212.96M228.60 1178.33L220.70 1178.33L220.70 1259.13L277.50 1259.13M277.50 1289.91L173.30 1289.91L173.30 1320.69L277.50 1320.69M220.70 1218.73L122.30 1218.73L122.30 1305.30L173.30 1305.30M277.50 1351.47L184.50 1351.47L184.50 1382.25L277.50 1382.25M184.50 1366.86L146.70 1366.86L146.70 1413.03L277.50 1413.03M277.50 1443.81L165.20 1443.81L165.20 1474.59L277.50 1474.59M146.70 1389.95L125.00 1389.95L125.00 1459.20L165.20 1459.20M277.50 1505.37L273.20 1505.37L273.20 1536.15L277.50 1536.15M125.00 1424.57L117.80 1424.57L117.80 1520.76L273.20 1520.76M122.30 1262.02L85.40 1262.02L85.40 1472.67L117.80 1472.67M71.90 931.13L33.50 931.13L33.50 1367.34L85.40 1367.34M277.50 1566.93L277.00 1566.93L277.00 1597.71L277.50 1597.71M277.00 1582.32L177.50 1582.32L177.50 1628.49L277.50 1628.49M277.50 1659.27L250.60 1659.27L250.60 1690.05L277.50 1690.05M177.50 1605.41L138.00 1605.41L138.00 1674.66L250.60 1674.66M277.50 1720.83L275.70 1720.83L275.70 1751.61L277.50 1751.61M275.70 1736.22L272.60 1736.22L272.60 1782.39L277.50 1782.39M272.60 1759.31L162.10 1759.31L162.10 1813.17L277.50 1813.17M162.10 1786.24L149.80 1786.24L149.80 1843.95L277.50 1843.95M138.00 1640.03L120.50 1640.03L120.50 1815.09L149.80 1815.09M277.50 1874.73L191.70 1874.73L191.70 1905.51L277.50 1905.51M191.70 1890.12L148.00 1890.12L148.00 1936.29L277.50 1936.29M120.50 1727.56L99.30 1727.56L99.30 1913.21L148.00 1913.21M277.50 1967.07L252.10 1967.07L252.10 1997.85L277.50 1997.85M277.50 2028.63L201.70 2028.63L201.70 2059.41L277.50 2059.41M252.10 1982.46L131.90 1982.46L131.90 2044.02L201.70 2044.02M99.30 1820.38L60.70 1820.38L60.70 2013.24L131.90 2013.24M33.50 1149.24L9.70 1149.24L9.70 1916.81L60.70 1916.81M320.38 664.20L320.38 283.70L342.02 283.70L342.02 664.20M298.72 664.20L298.72 189.80L331.20 189.80L331.20 283.70M385.32 664.20L385.32 448.20L406.97 448.20L406.97 664.20M363.67 664.20L363.67 307.80L396.15 307.80L396.15 448.20M314.96 189.80L314.96 92.10L379.91 92.10L379.91 307.80M428.62 664.20L428.62 270.60L450.27 270.60L450.27 664.20M493.57 664.20L493.57 357.70L515.22 357.70L515.22 664.20M471.92 664.20L471.92 208.90L504.40 208.90L504.40 357.70M439.45 270.60L439.45 174.40L488.16 174.40L488.16 208.90M558.52 664.20L558.52 430.50L580.17 430.50L580.17 664.20M536.88 664.20L536.88 329.10L569.35 329.10L569.35 430.50M601.82 664.20L601.82 367.50L623.47 367.50L623.47 664.20M688.42 664.20L688.42 480.90L710.07 480.90L710.07 664.20M666.77 664.20L666.77 412.20L699.25 412.20L699.25 480.90M645.12 664.20L645.12 362.90L683.01 362.90L683.01 412.20M612.65 367.50L612.65 290.70L664.07 290.70L664.07 362.90M553.11 329.10L553.11 234.50L638.36 234.50L638.36 290.70M463.81 174.40L463.81 112.00L595.74 112.00L595.74 234.50M347.44 92.10L347.44 21.60L529.77 21.60L529.77 112.00" stroke="#151515" stroke-width="1.55" fill="none" stroke-linecap="butt" stroke-linejoin="miter"/>
<text transform="translate(75.00,628.60) scale(1.0665,1)" x="-11.90 -6.62 2.60" y="0" font-size="16.32" >-15</text>
<text transform="translate(139.60,628.60) scale(1.0665,1)" x="-11.90 -6.62 2.66" y="0" font-size="16.32" >-10</text>
<text transform="translate(203.90,628.60) scale(1.0583,1)" x="-7.35 -1.97" y="0" font-size="16.32" >-5</text>
<text transform="translate(268.60,628.60) scale(1.0796,1)" x="-4.54" y="0" font-size="16.32" >0</text>
<text transform="translate(171.80,647.80) scale(1.0611,1)" x="-43.50 -35.91 -27.35 -18.84 -13.01 -4.31 0.26 7.62 16.93 20.62 29.33 38.40" y="0" font-size="15.58" >Log(p value)</text>
<text transform="translate(171.70,22.00) scale(1.0749,1)" x="-49.10 -35.01 -22.42 -16.62 -3.62 4.82 10.84 24.59 36.49" y="0" font-size="20.34" font-weight="bold" >Color Key</text>
<text transform="translate(730.62,710.39) scale(1.0306,1)" x="0.19 8.57 15.26 24.09 29.51 42.57 45.68 55.02 60.16 68.66 77.54 85.98 91.07 99.87 108.63 113.34 126.40 129.80 138.01 142.78 150.72 158.16 162.40 172.51 182.57" y="0" font-size="14.90" >hsa-miR-423-5p|microT-CDS</text>
<text transform="translate(730.62,741.17) scale(1.0306,1)" x="0.19 8.57 15.26 24.09 29.51 42.57 45.68 55.02 60.08 68.79 77.34 85.98 91.07 99.87 108.63 113.34 126.40 129.80 138.01 142.78 150.72 158.16 162.40 172.51 182.57" y="0" font-size="14.90" >hsa-miR-192-5p|microT-CDS</text>
<text transform="translate(730.62,771.95) scale(1.0306,1)" x="0.19 8.57 15.26 24.09 29.51 42.57 45.68 55.02 60.08 68.84 77.47 85.98 91.07 99.87 108.63 113.34 126.40 129.80 138.01 142.78 150.72 158.16 162.40 172.51 182.57" y="0" font-size="14.90" >hsa-miR-185-5p|microT-CDS</text>
<text transform="translate(730.62,802.73) scale(1.0306,1)" x="0.19 8.57 15.26 24.09 29.51 42.57 45.68 55.02 60.08 68.66 77.34 85.98 91.07 99.87 108.63 113.34 126.40 129.80 138.01 142.78 150.72 158.16 162.40 172.51 182.57" y="0" font-size="14.90" >hsa-miR-122-5p|microT-CDS</text>
<text transform="translate(730.62,833.51) scale(1.0306,1)" x="0.19 8.57 15.26 24.09 29.51 42.57 45.68 55.02 60.08 68.84 77.54 85.98 91.14 99.87 108.63 113.34 126.40 129.80 138.01 142.78 150.72 158.16 162.40 172.51 182.57" y="0" font-size="14.90" >hsa-miR-143-3p|microT-CDS</text>
<text transform="translate(730.62,864.29) scale(1.0306,1)" x="0.19 8.57 15.26 24.09 29.51 42.57 45.68 55.02 60.08 68.79 77.44 85.98 91.07 99.87 108.63 113.34 126.40 129.80 138.01 142.78 150.72 158.16 162.40 172.51 182.57" y="0" font-size="14.90" >hsa-miR-191-5p|microT-CDS</text>
<text transform="translate(730.62,895.07) scale(1.0284,1)" x="0.20 8.60 15.31 24.15 29.59 42.67 45.79 55.15 60.12 68.91 77.48 82.57 91.40 100.17 104.90 117.97 121.39 129.62 134.40 142.35 149.81 154.07 164.20 174.27" y="0" font-size="14.90" >hsa-miR-21-5p|microT-CDS</text>
<text transform="translate(730.62,925.85) scale(1.0262,1)" x="0.21 8.63 15.35 24.21 29.67 42.76 45.90 55.27 60.44 69.15 77.87 86.75 91.49 104.59 108.02 116.26 121.06 129.03 136.49 140.77 150.92 161.01" y="0" font-size="14.90" >hsa-miR-484|microT-CDS</text>
<text transform="translate(730.62,956.63) scale(1.0291,1)" x="0.19 8.59 15.29 24.13 29.57 42.64 45.76 55.11 60.27 68.95 77.53 85.83 90.92 99.74 108.51 113.23 126.30 129.71 137.94 142.72 150.66 158.11 162.37 172.49 182.56" y="0" font-size="14.90" >hsa-miR-30e-5p|microT-CDS</text>
<text transform="translate(730.62,987.41) scale(1.0305,1)" x="0.19 8.58 15.27 24.10 29.52 42.58 45.69 55.03 60.19 68.85 77.44 85.97 91.06 99.86 108.62 113.33 126.39 129.79 138.01 142.78 150.71 158.16 162.40 172.51 182.57" y="0" font-size="14.90" >hsa-miR-30d-5p|microT-CDS</text>
<text transform="translate(730.62,1018.19) scale(1.0306,1)" x="0.19 8.57 15.26 24.09 29.51 42.57 45.68 55.02 60.08 68.84 77.44 85.98 91.14 99.87 108.63 113.34 126.40 129.80 138.01 142.78 150.72 158.16 162.40 172.51 182.57" y="0" font-size="14.90" >hsa-miR-101-3p|microT-CDS</text>
<text transform="translate(730.62,1048.97) scale(1.0306,1)" x="0.19 8.57 15.26 24.09 29.51 42.57 45.68 55.02 60.08 68.66 77.52 85.98 91.14 99.87 108.63 113.34 126.40 129.80 138.01 142.78 150.72 158.16 162.40 172.51 182.57" y="0" font-size="14.90" >hsa-miR-126-3p|microT-CDS</text>
<text transform="translate(730.62,1079.75) scale(1.0268,1)" x="0.20 8.62 15.34 24.19 29.64 42.74 45.87 55.23 60.40 69.05 77.74 85.85 95.08 99.82 112.92 116.34 124.58 129.37 137.34 144.80 149.07 159.21 169.30" y="0" font-size="14.90" >hsa-miR-451a|microT-CDS</text>
<text transform="translate(730.62,1110.53) scale(1.0398,1)" x="0.15 8.47 15.09 23.86 29.00 32.58 41.40 46.12 51.16 59.46 67.03 72.06 80.78 89.48 94.11 107.10 110.45 118.60 123.31 131.17 138.57 142.75 152.76 162.74" y="0" font-size="14.90" >hsa-let-7c-5p|microT-CDS</text>
<text transform="translate(730.62,1141.31) scale(1.0417,1)" x="0.14 8.44 15.06 23.81 28.95 32.51 41.32 46.03 51.06 59.75 68.05 73.06 81.77 90.46 95.08 108.05 111.39 119.53 124.23 132.08 139.46 143.63 153.63 163.58" y="0" font-size="14.90" >hsa-let-7b-5p|microT-CDS</text>
<text transform="translate(730.62,1172.09) scale(1.0392,1)" x="0.15 8.47 15.10 23.88 29.02 32.60 41.42 46.15 51.20 60.15 63.66 68.69 77.42 86.12 90.76 103.75 107.10 115.26 119.98 127.84 135.24 139.42 149.45 159.42" y="0" font-size="14.90" >hsa-let-7f-5p|microT-CDS</text>
<text transform="translate(730.62,1202.87) scale(1.0399,1)" x="0.15 8.46 15.09 23.86 29.00 32.58 41.39 46.11 51.16 59.11 67.88 72.90 81.62 90.32 94.95 107.94 111.29 119.44 124.16 132.01 139.41 143.59 153.60 163.57" y="0" font-size="14.90" >hsa-let-7a-5p|microT-CDS</text>
<text transform="translate(730.62,1233.65) scale(1.0427,1)" x="0.14 8.43 15.04 23.79 28.92 32.48 41.28 45.98 51.01 59.70 63.17 68.18 76.88 85.56 90.17 103.13 106.47 114.60 119.30 127.13 134.51 138.67 148.66 158.61" y="0" font-size="14.90" >hsa-let-7i-5p|microT-CDS</text>
<text transform="translate(730.62,1264.43) scale(1.0417,1)" x="0.14 8.44 15.06 23.81 28.95 32.51 41.32 46.03 51.06 59.60 68.05 73.06 81.77 90.46 95.08 108.05 111.39 119.53 124.23 132.08 139.46 143.63 153.63 163.58" y="0" font-size="14.90" >hsa-let-7g-5p|microT-CDS</text>
<text transform="translate(730.62,1295.21) scale(1.0306,1)" x="0.19 8.57 15.26 24.09 29.51 42.57 45.68 55.02 59.98 68.66 77.54 85.98 91.14 99.87 108.63 113.34 126.40 129.80 138.01 142.78 150.72 158.16 162.40 172.51 182.57" y="0" font-size="14.90" >hsa-miR-223-3p|microT-CDS</text>
<text transform="translate(730.62,1325.99) scale(1.0417,1)" x="0.14 8.44 15.06 23.81 28.95 32.51 41.32 46.03 51.06 59.60 68.05 73.06 81.77 90.46 95.08 108.05 111.39 119.53 124.23 132.08 139.46 143.63 153.63 163.58" y="0" font-size="14.90" >hsa-let-7d-5p|microT-CDS</text>
<text transform="translate(730.62,1356.77) scale(1.0310,1)" x="0.19 8.57 15.26 24.08 29.50 42.56 45.66 55.00 60.05 68.76 77.41 85.48 94.31 99.46 108.19 116.94 121.65 134.71 138.11 146.32 151.09 159.02 166.46 170.70 180.80 190.85" y="0" font-size="14.90" >hsa-miR-151a-3p|microT-CDS</text>
<text transform="translate(730.62,1387.55) scale(1.0284,1)" x="0.20 8.60 15.31 24.15 29.59 42.67 45.79 55.15 60.25 69.02 77.48 82.57 91.40 100.17 104.90 117.97 121.39 129.62 134.40 142.35 149.81 154.07 164.20 174.27" y="0" font-size="14.90" >hsa-miR-93-5p|microT-CDS</text>
<text transform="translate(730.62,1418.33) scale(1.0284,1)" x="0.20 8.60 15.31 24.15 29.59 42.67 45.79 55.15 60.12 68.81 77.48 82.65 91.40 100.17 104.90 117.97 121.39 129.62 134.40 142.35 149.81 154.07 164.20 174.27" y="0" font-size="14.90" >hsa-miR-22-3p|microT-CDS</text>
<text transform="translate(730.62,1449.11) scale(1.0310,1)" x="0.19 8.57 15.26 24.08 29.50 42.56 45.66 55.00 60.05 68.81 77.41 85.48 94.31 99.39 108.19 116.94 121.65 134.71 138.11 146.32 151.09 159.02 166.46 170.70 180.80 190.85" y="0" font-size="14.90" >hsa-miR-181a-5p|microT-CDS</text>
<text transform="translate(730.62,1479.89) scale(1.0306,1)" x="0.19 8.57 15.26 24.09 29.51 42.57 45.68 55.02 60.08 68.66 77.52 85.98 91.07 99.87 108.63 113.34 126.40 129.80 138.01 142.78 150.72 158.16 162.40 172.51 182.57" y="0" font-size="14.90" >hsa-miR-126-5p|microT-CDS</text>
<text transform="translate(730.62,1510.67) scale(1.0289,1)" x="0.19 8.59 15.30 24.14 29.57 42.65 45.77 55.12 60.19 68.96 76.97 85.81 90.91 99.73 108.49 113.22 126.29 129.70 137.93 142.71 150.66 158.11 162.36 172.49 182.56" y="0" font-size="14.90" >hsa-miR-10a-5p|microT-CDS</text>
<text transform="translate(730.62,1541.45) scale(1.0305,1)" x="0.19 8.58 15.27 24.10 29.52 42.58 45.69 55.03 60.08 68.85 77.60 85.97 91.06 99.86 108.62 113.33 126.39 129.79 138.01 142.78 150.71 158.16 162.40 172.51 182.57" y="0" font-size="14.90" >hsa-miR-10b-5p|microT-CDS</text>
<text transform="translate(730.62,1572.23) scale(1.0326,1)" x="0.18 8.55 15.23 24.04 29.45 42.49 45.59 54.92 59.96 68.66 77.32 86.10 94.46 99.61 108.32 117.07 121.76 134.80 138.19 146.39 151.15 159.07 166.50 170.73 180.82 190.86" y="0" font-size="14.90" >hsa-miR-199b-3p|microT-CDS</text>
<text transform="translate(730.62,1603.01) scale(1.0310,1)" x="0.19 8.57 15.26 24.08 29.50 42.56 45.66 55.00 60.05 68.77 77.44 85.48 94.31 99.46 108.19 116.94 121.65 134.71 138.11 146.32 151.09 159.02 166.46 170.70 180.80 190.85" y="0" font-size="14.90" >hsa-miR-199a-3p|microT-CDS</text>
<text transform="translate(730.62,1633.79) scale(1.0305,1)" x="0.19 8.58 15.27 24.10 29.52 42.58 45.69 55.03 59.98 68.82 77.60 85.97 91.13 99.86 108.62 113.33 126.39 129.79 138.01 142.78 150.71 158.16 162.40 172.51 182.57" y="0" font-size="14.90" >hsa-miR-27b-3p|microT-CDS</text>
<text transform="translate(730.62,1664.57) scale(1.0305,1)" x="0.19 8.58 15.27 24.10 29.52 42.58 45.69 55.03 59.98 68.84 77.60 85.97 91.06 99.86 108.62 113.33 126.39 129.79 138.01 142.78 150.71 158.16 162.40 172.51 182.57" y="0" font-size="14.90" >hsa-miR-26b-5p|microT-CDS</text>
<text transform="translate(730.62,1695.35) scale(1.0289,1)" x="0.19 8.59 15.30 24.14 29.57 42.65 45.77 55.12 60.09 68.96 76.97 85.81 90.91 99.73 108.49 113.22 126.29 129.70 137.93 142.71 150.66 158.11 162.36 172.49 182.56" y="0" font-size="14.90" >hsa-miR-26a-5p|microT-CDS</text>
<text transform="translate(730.62,1726.13) scale(1.0286,1)" x="0.20 8.60 15.30 24.15 29.58 42.66 45.79 55.14 60.31 68.80 77.68 86.45 95.22 99.95 113.02 116.44 124.67 129.45 137.40 144.85 149.11 159.24 169.31" y="0" font-size="14.90" >hsa-miR-320b|microT-CDS</text>
<text transform="translate(730.62,1756.91) scale(1.0268,1)" x="0.20 8.62 15.34 24.19 29.64 42.74 45.87 55.23 60.42 68.93 77.82 85.85 95.08 99.82 112.92 116.34 124.58 129.37 137.34 144.80 149.07 159.21 169.30" y="0" font-size="14.90" >hsa-miR-320a|microT-CDS</text>
<text transform="translate(730.62,1787.69) scale(1.0267,1)" x="0.20 8.62 15.34 24.20 29.65 42.74 45.88 55.24 60.42 68.94 77.83 86.21 94.23 98.98 112.07 115.49 123.74 128.53 136.49 143.96 148.23 158.38 168.47" y="0" font-size="14.90" >hsa-miR-320c|microT-CDS</text>
<text transform="translate(730.62,1818.47) scale(1.0306,1)" x="0.19 8.57 15.26 24.09 29.51 42.57 45.68 55.02 60.08 68.84 77.34 85.98 91.07 99.87 108.63 113.34 126.40 129.80 138.01 142.78 150.72 158.16 162.40 172.51 182.57" y="0" font-size="14.90" >hsa-miR-142-5p|microT-CDS</text>
<text transform="translate(730.62,1849.25) scale(1.0289,1)" x="0.19 8.59 15.30 24.14 29.57 42.65 45.77 55.12 60.09 68.96 76.97 85.81 90.91 99.73 108.49 113.22 126.29 129.70 137.93 142.71 150.66 158.11 162.36 172.49 182.56" y="0" font-size="14.90" >hsa-miR-20a-5p|microT-CDS</text>
<text transform="translate(730.62,1880.03) scale(1.0289,1)" x="0.19 8.59 15.30 24.14 29.57 42.65 45.77 55.12 60.22 68.78 76.97 85.81 90.98 99.73 108.49 113.22 126.29 129.70 137.93 142.71 150.66 158.11 162.36 172.49 182.56" y="0" font-size="14.90" >hsa-miR-92a-3p|microT-CDS</text>
<text transform="translate(730.62,1910.81) scale(1.0284,1)" x="0.20 8.60 15.31 24.15 29.59 42.67 45.79 55.15 60.12 68.94 77.48 82.65 91.40 100.17 104.90 117.97 121.39 129.62 134.40 142.35 149.81 154.07 164.20 174.27" y="0" font-size="14.90" >hsa-miR-25-3p|microT-CDS</text>
<text transform="translate(730.62,1941.59) scale(1.0306,1)" x="0.19 8.57 15.26 24.09 29.51 42.57 45.68 55.02 60.16 68.84 77.52 85.98 91.07 99.87 108.63 113.34 126.40 129.80 138.01 142.78 150.72 158.16 162.40 172.51 182.57" y="0" font-size="14.90" >hsa-miR-486-5p|microT-CDS</text>
<text transform="translate(730.62,1972.37) scale(1.0262,1)" x="0.21 8.63 15.35 24.21 29.67 42.76 45.90 55.27 60.35 69.15 77.84 86.75 91.49 104.59 108.02 116.26 121.06 129.03 136.49 140.77 150.92 161.01" y="0" font-size="14.90" >hsa-miR-107|microT-CDS</text>
<text transform="translate(730.62,2003.15) scale(1.0310,1)" x="0.19 8.57 15.26 24.08 29.50 42.56 45.66 55.00 60.05 68.81 77.51 85.48 94.31 99.46 108.19 116.94 121.65 134.71 138.11 146.32 151.09 159.02 166.46 170.70 180.80 190.85" y="0" font-size="14.90" >hsa-miR-103a-3p|microT-CDS</text>
<text transform="translate(730.62,2033.93) scale(1.0284,1)" x="0.20 8.60 15.31 24.15 29.59 42.67 45.79 55.15 60.22 68.99 77.48 82.57 91.40 100.17 104.90 117.97 121.39 129.62 134.40 142.35 149.81 154.07 164.20 174.27" y="0" font-size="14.90" >hsa-miR-16-5p|microT-CDS</text>
<text transform="translate(730.62,2064.71) scale(1.0289,1)" x="0.19 8.59 15.30 24.14 29.57 42.65 45.77 55.12 60.19 68.91 76.97 85.81 90.91 99.73 108.49 113.22 126.29 129.70 137.93 142.71 150.66 158.11 162.36 172.49 182.56" y="0" font-size="14.90" >hsa-miR-15a-5p|microT-CDS</text>
<text transform="translate(303.82,2084.61) rotate(-90) scale(1.0632,1)" x="-226.03 -214.09 -205.97 -198.25 -194.68 -186.33 -181.67 -176.78 -169.00 -160.77 -152.54 -148.95 -137.66 -132.97 -121.86 -118.18 -110.78 -103.86 -95.06 -86.71 -82.40 -73.93 -70.54 -62.52 -55.26 -47.53 -38.73 -33.96 -25.67 -17.66 -10.39 -7.08" y="0" font-size="14.92" >Mucin type O-Glycan biosynthesis</text>
<text transform="translate(325.48,2084.61) rotate(-90) scale(1.0613,1)" x="-166.68 -158.28 -148.67 -136.83 -131.47 -126.83 -118.87 -111.37 -103.03 -94.25 -89.63 -80.95 -75.93 -71.56 -67.98 -59.17 -54.50 -45.82 -41.44 -32.96 -24.92 -20.02 -16.61 -8.33" y="0" font-size="14.92" >ECM-receptor interaction</text>
<text transform="translate(347.12,2084.61) rotate(-90) scale(1.0770,1)" x="-475.24 -464.21 -460.59 -453.27 -445.91 -437.98 -431.59 -422.71 -409.97 -406.47 -398.34 -390.24 -381.70 -378.08 -370.77 -363.92 -355.21 -346.92 -342.70 -334.28 -330.96 -323.02 -315.83 -308.19 -299.46 -294.77 -286.57 -278.64 -271.42 -268.17 -261.11 -257.08 -252.22 -248.36 -240.86 -232.70 -224.52 -216.30 -207.49 -202.97 -194.64 -190.71 -185.86 -182.36 -174.08 -170.15 -163.12 -154.63 -150.76 -147.20 -138.05 -133.47 -125.30 -121.01 -116.73 -112.63 -104.35 -95.76 -90.84 -78.93 -69.79 -65.77 -57.05 -48.77 -44.84 -37.82 -29.32 -25.45 -21.89 -12.75 -8.16" y="0" font-size="14.95" >Glycosaminoglycan biosynthesis - chondroitin sulfate / dermatan sulfate</text>
<text transform="translate(368.77,2084.61) rotate(-90) scale(1.0297,1)" x="-98.49 -89.27 -83.98 -80.39 -71.85 -63.30 -58.94 -50.12 -46.64 -39.37 -31.52 -22.73 -15.45 -7.19" y="0" font-size="14.92" >Prion diseases</text>
<text transform="translate(390.43,2084.61) rotate(-90) scale(1.0747,1)" x="-145.94 -139.42 -130.28 -125.14 -120.32 -112.70 -109.20 -100.81 -93.14 -89.73 -81.34 -76.99 -64.52 -55.91 -51.88 -43.12 -35.02 -26.71 -23.06 -19.81 -12.56" y="0" font-size="14.92" >Fatty acid metabolism</text>
<text transform="translate(412.07,2084.61) rotate(-90) scale(1.0650,1)" x="-151.72 -145.14 -135.94 -130.76 -125.88 -118.20 -114.65 -106.19 -98.47 -95.01 -86.57 -82.27 -73.81 -70.43 -62.43 -55.17 -47.46 -38.67 -33.92 -25.64 -17.64 -10.38 -7.08" y="0" font-size="14.92" >Fatty acid biosynthesis</text>
<text transform="translate(433.73,2084.61) rotate(-90) scale(1.0748,1)" x="-236.07 -227.51 -219.07 -211.03 -206.50 -198.18 -194.77 -186.39 -182.22 -174.07 -165.48 -160.56 -148.13 -139.95 -131.77 -123.61 -119.67 -112.46 -109.05 -100.64 -93.02 -84.18 -80.53 -77.03 -68.82 -60.43 -56.20 -48.62 -39.48 -34.79 -26.53 -16.43 -7.61" y="0" font-size="14.92" >Thyroid hormone signaling pathway</text>
<text transform="translate(455.38,2084.61) rotate(-90) scale(1.0749,1)" x="-162.19 -151.71 -148.16 -139.85 -131.75 -123.59 -119.65 -112.44 -109.03 -100.63 -93.01 -84.17 -80.52 -77.02 -68.81 -60.42 -56.19 -48.61 -39.47 -34.78 -26.53 -16.43 -7.61" y="0" font-size="14.92" >Hippo signaling pathway</text>
<text transform="translate(477.02,2084.61) rotate(-90) scale(1.0558,1)" x="-99.13 -89.40 -82.17 -73.84 -65.44 -61.24 -52.74 -44.13 -40.61 -32.75 -23.88 -15.77 -8.22" y="0" font-size="14.92" >Axon guidance</text>
<text transform="translate(498.67,2084.61) rotate(-90) scale(1.0700,1)" x="-183.35 -174.35 -166.82 -161.68 -157.13 -149.00 -140.68 -132.46 -124.15 -120.19 -112.95 -109.51 -101.07 -93.42 -84.55 -80.88 -77.36 -69.11 -60.69 -56.43 -48.81 -39.65 -34.93 -26.63 -16.49 -7.63" y="0" font-size="14.92" >Estrogen signaling pathway</text>
<text transform="translate(520.32,2084.61) rotate(-90) scale(1.0829,1)" x="-156.45 -146.87 -134.31 -126.12 -117.98 -109.42 -105.44 -96.64 -83.97 -80.52 -72.40 -64.28 -60.82 -52.26 -44.01 -35.51 -32.38 -24.47 -19.65 -16.36 -8.24" y="0" font-size="14.92" >Amphetamine addiction</text>
<text transform="translate(541.98,2084.61) rotate(-90) scale(1.0574,1)" x="-187.07 -179.08 -168.91 -160.55 -155.52 -147.24 -138.53 -134.39 -125.60 -121.57 -114.27 -110.77 -102.22 -94.47 -85.53 -81.83 -78.23 -69.88 -61.39 -57.05 -49.34 -40.09 -35.29 -26.88 -16.63 -7.67" y="0" font-size="14.92" >TGF-beta signaling pathway</text>
<text transform="translate(563.62,2084.61) rotate(-90) scale(1.0478,1)" x="-182.33 -173.60 -169.41 -161.30 -153.66 -149.43 -139.61 -131.55 -126.74 -122.66 -115.31 -111.75 -103.13 -95.30 -86.30 -82.56 -78.91 -70.49 -61.94 -57.54 -49.75 -40.44 -35.58 -27.08 -16.74 -7.71" y="0" font-size="14.92" >PI3K-Akt signaling pathway</text>
<text transform="translate(585.27,2084.61) rotate(-90) scale(1.0555,1)" x="-159.99 -152.09 -144.09 -136.93 -125.83 -121.79 -114.49 -110.97 -102.41 -94.64 -85.69 -81.97 -78.36 -70.00 -61.50 -57.15 -49.42 -40.16 -35.35 -26.92 -16.65 -7.68" y="0" font-size="14.92" >FoxO signaling pathway</text>
<text transform="translate(606.92,2084.61) rotate(-90) scale(1.0818,1)" x="-369.59 -360.42 -357.05 -348.73 -341.18 -332.41 -328.79 -325.34 -317.20 -308.88 -304.70 -297.19 -288.12 -283.49 -275.32 -265.31 -256.56 -249.24 -242.24 -237.70 -233.18 -225.16 -216.89 -208.46 -205.68 -196.61 -191.81 -188.35 -180.21 -171.90 -167.72 -159.38 -155.97 -147.29 -142.20 -138.70 -130.68 -122.14 -117.60 -109.50 -101.59 -94.02 -86.46 -82.50 -74.02 -69.83 -65.94 -58.50 -53.97 -45.70 -33.22 -29.41 -22.08 -13.82 -10.22 -7.00" y="0" font-size="14.88" >Signaling pathways regulating pluripotency of stem cells</text>
<text transform="translate(628.57,2084.61) rotate(-90) scale(1.0565,1)" x="-159.97 -150.93 -146.30 -137.58 -132.88 -124.72 -116.49 -107.85 -104.13 -96.68 -89.71 -80.86 -72.67 -65.52 -61.13 -57.53 -49.14 -45.18 -38.21 -29.35 -21.24 -13.70 -4.99" y="0" font-size="14.92" >Proteoglycans in cancer</text>
<text transform="translate(650.23,2084.61) rotate(-90) scale(1.0580,1)" x="-166.09 -153.92 -145.87 -135.40 -125.54 -121.52 -114.22 -110.71 -102.17 -94.43 -85.49 -81.79 -78.19 -69.85 -61.36 -57.02 -49.32 -40.07 -35.28 -26.87 -16.62 -7.67" y="0" font-size="14.92" >mTOR signaling pathway</text>
<text transform="translate(671.88,2084.61) rotate(-90) scale(1.0525,1)" x="-105.22 -96.15 -91.50 -83.41 -75.78 -71.62 -62.34 -57.61 -49.32 -45.34 -38.34 -29.45 -21.30 -13.74 -5.00" y="0" font-size="14.92" >Prostate cancer</text>
<text transform="translate(693.52,2084.61) rotate(-90) scale(1.0516,1)" x="-47.86 -36.68 -32.95 -29.49 -20.91 -8.77" y="0" font-size="14.92" >Glioma</text>
<text transform="translate(715.17,2084.61) rotate(-90) scale(1.0513,1)" x="-70.09 -58.10 -49.66 -46.71 -37.81 -29.50 -20.91 -8.77" y="0" font-size="14.92" >Melanoma</text>
<rect x="0" y="2540" width="944" height="8" fill="#fff"/>
</svg></body></html>
